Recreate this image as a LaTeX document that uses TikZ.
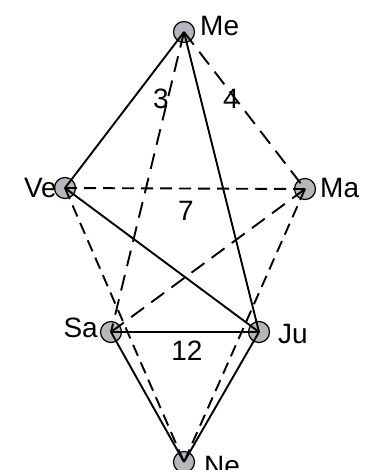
\documentclass[tikz,border=0pt]{standalone}
\usepackage{fontspec}
\setmainfont{Liberation Sans}
\begin{document}
\begin{tikzpicture}[x=1pt,y=-1pt,
  planet/.style={circle,draw=black,line width=1.2pt,fill={rgb,255:red,180;green,184;blue,188},minimum size=21pt,inner sep=0pt},
  lbl/.style={inner sep=0pt,font=\fontsize{28}{28}\selectfont},
  solidline/.style={line width=1.9pt,black},
  dashline/.style={line width=1.9pt,black,dash pattern=on 12pt off 7pt},
  longdash/.style={line width=1.9pt,black,dash pattern=on 16pt off 9pt}]
\useasboundingbox (0,0) rectangle (368,470);
\node[planet] (Me) at (184,32) {};
\node[planet] (Ve) at (65,188) {};
\node[planet] (Ma) at (305,189) {};
\node[planet] (Sa) at (111,332) {};
\node[planet] (Ju) at (259,332) {};
\node[planet] (Ne) at (184,462) {};
\node[lbl,anchor=base west] (tMe) at (200,36) {Me};
\node[lbl,anchor=base east] (tVe) at (57,197) {Ve};
\node[lbl,anchor=base west] (tMa) at (320,197) {Ma};
\node[lbl,anchor=base east] (tSa) at (98,337) {Sa};
\node[lbl,anchor=base west] (tJu) at (278,343) {Ju};
\node[lbl,anchor=base west] (tNe) at (204,475) {Ne};
\node[lbl] (n3) at (161,99) {3};
\node[lbl] (n4) at (231,99) {4};
\node[lbl] (n7) at (186,211) {7};
\node[lbl] (n12) at (187,351) {12};
\draw[solidline] (Me.center) -- (Ve.center);
\draw[solidline] (Me.center) -- (Ju.center);
\draw[solidline] (Ve.center) -- (Ju.center);
\draw[solidline] (Sa.center) -- (Ju.center);
\draw[solidline] (Sa.center) -- (Ne.center);
\draw[solidline] (Ju.center) -- (Ne.center);
\draw[longdash] (Me.center) -- (Sa.center);
\draw[longdash] (Me.center) -- (Ma.center);
\draw[dashline] (Ve.center) -- (Ma.center);
\draw[dashline] (Ve.center) -- (Ne.center);
\draw[longdash] (Ma.center) -- (Sa.center);
\draw[dashline] (Ma.center) -- (Ne.center);
\end{tikzpicture}
\end{document}
